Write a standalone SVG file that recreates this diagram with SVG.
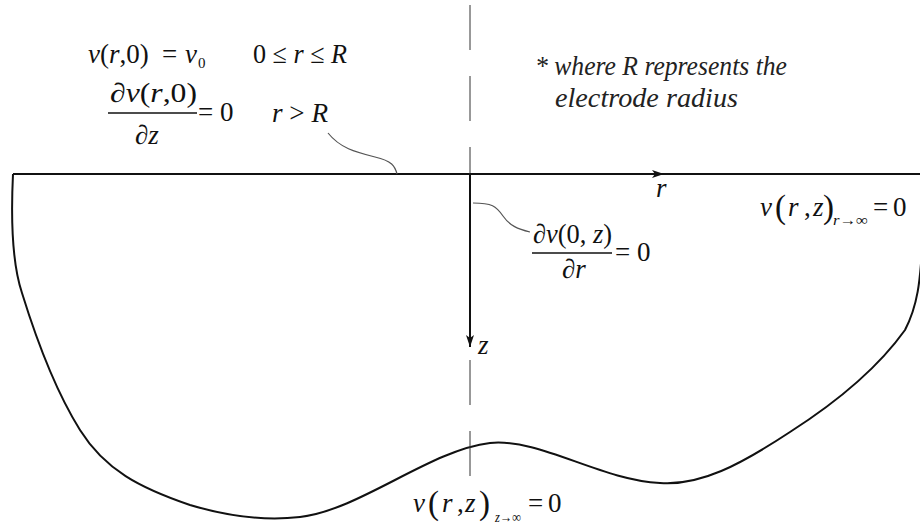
<svg xmlns="http://www.w3.org/2000/svg" width="920" height="529" viewBox="0 0 920 529" font-family="'Liberation Serif', 'Times New Roman', Times, serif">
<defs>
<style>
text{fill:#111;font-size:27px}
.i{font-style:italic}
.sub{font-size:15px}
.big{font-size:33px}
.note{font-style:italic;font-size:27px;fill:#222}
.solid{stroke:#111;stroke-width:2;fill:none}
.leader{stroke:#555;stroke-width:1.2;fill:none}
.dash{stroke:#333;stroke-width:1;stroke-dasharray:45 26;fill:none}
.frac{stroke:#111;stroke-width:1.3}
</style>
<marker id="ah" viewBox="0 0 12 10" refX="12" refY="5" markerWidth="12" markerHeight="10" markerUnits="userSpaceOnUse" orient="auto">
<path d="M0,1 L12,5 L0,9 L3,5 Z" fill="#111"/>
</marker>
</defs>
<rect width="920" height="529" fill="#fff"/>

<g id="domain">
<path class="solid" d="M13,174 C11,215 11,260 22,293 C35,335 55,390 80,430 C105,470 140,488 190,505 C230,517 265,521 300,517 C360,510 430,450 490,443 C540,438 600,480 660,483 C700,486 740,465 790,432 C840,400 880,365 905,330 C918,305 920,280 922,250"/>
<line class="solid" x1="13" y1="174" x2="920" y2="174"/>
</g>

<g id="connectors">
<line class="dash" x1="470" y1="5" x2="470" y2="476"/>
<line class="solid" x1="470" y1="174" x2="664" y2="174" marker-end="url(#ah)"/>
<line class="solid" x1="470" y1="174" x2="470" y2="347" marker-end="url(#ah)"/>
<path class="leader" d="M328,133 C340,148 355,152 375,157 C392,161 395,166 397,174"/>
<path class="leader" d="M473,203 C492,203 496,206 503,216 C510,226 518,229 530,232"/>
</g>

<g id="axis-labels">
<text class="i" x="656" y="197">r</text>
<text class="i" x="478" y="354">z</text>
</g>

<g id="bc-surface">
<text x="88" y="63"><tspan class="i">v</tspan>(<tspan class="i">r</tspan>,0)</text>
<text x="162" y="63">=</text>
<text class="i" x="185" y="63">v</text>
<text class="sub" x="198" y="68">0</text>
<text x="253" y="63" textLength="94" lengthAdjust="spacingAndGlyphs">0 ≤ <tspan class="i">r</tspan> ≤ <tspan class="i">R</tspan></text>
<text x="110" y="102" textLength="87" lengthAdjust="spacingAndGlyphs">∂<tspan class="i">v</tspan>(<tspan class="i">r</tspan>,0)</text>
<line class="frac" x1="108" y1="113" x2="197" y2="113"/>
<text x="135" y="144">∂<tspan class="i">z</tspan></text>
<text x="198" y="121">=</text>
<text x="220" y="121">0</text>
<text x="272" y="122" textLength="56" lengthAdjust="spacingAndGlyphs"><tspan class="i">r</tspan> &gt; <tspan class="i">R</tspan></text>
</g>

<g id="note">
<text class="note" x="535" y="75" textLength="252" lengthAdjust="spacingAndGlyphs">* where R represents the</text>
<text class="note" x="555" y="107" textLength="183" lengthAdjust="spacingAndGlyphs">electrode radius</text>
</g>

<g id="bc-axis">
<text x="533" y="243" textLength="79" lengthAdjust="spacingAndGlyphs">∂<tspan class="i">v</tspan>(0, <tspan class="i">z</tspan>)</text>
<line class="frac" x1="532" y1="253" x2="612" y2="253"/>
<text x="562" y="278">∂<tspan class="i">r</tspan></text>
<text x="615" y="261">=</text>
<text x="637" y="261">0</text>
</g>

<g id="bc-r-inf">
<text class="i" x="760" y="216">v</text>
<text class="big" x="775" y="218">(</text>
<text class="i" x="788" y="216">r</text>
<text x="804" y="216">,</text>
<text class="i" x="813" y="216">z</text>
<text class="big" x="823" y="218">)</text>
<text class="sub" x="833" y="225" textLength="35" lengthAdjust="spacingAndGlyphs"><tspan class="i">r</tspan>→∞</text>
<text x="873" y="216">=</text>
<text x="893" y="216">0</text>
</g>

<g id="bc-z-inf">
<text class="i" x="413" y="512">v</text>
<text class="big" x="428" y="514">(</text>
<text class="i" x="442" y="512">r</text>
<text x="457" y="512">,</text>
<text class="i" x="465" y="512">z</text>
<text class="big" x="479" y="514">)</text>
<text class="sub" x="495" y="522" textLength="26" lengthAdjust="spacingAndGlyphs"><tspan class="i">z</tspan>→∞</text>
<text x="528" y="512">=</text>
<text x="548" y="512">0</text>
</g>
</svg>
